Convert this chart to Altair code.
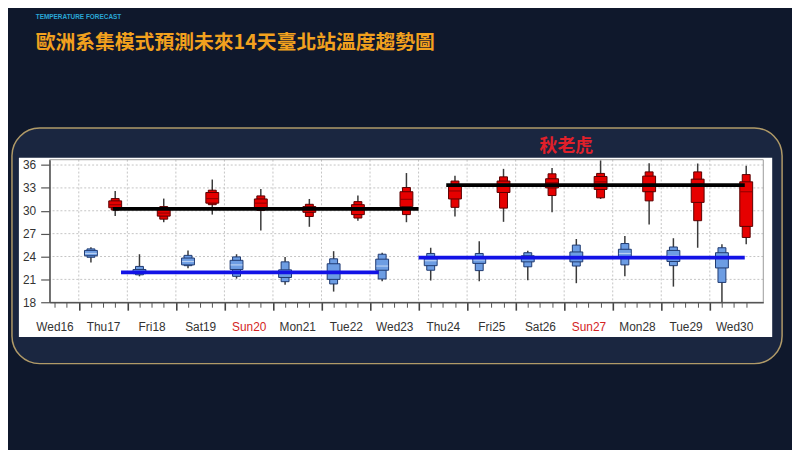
import altair as alt
import pandas as pd

# ---------------- data ----------------
day_labels = ["Wed16", "Thu17", "Fri18", "Sat19", "Sun20", "Mon21", "Tue22", "Wed23",
              "Thu24", "Fri25", "Sat26", "Sun27", "Mon28", "Tue29", "Wed30"]
days = list(range(16, 31))
box_days = list(range(17, 31))
y_ticks = [18, 21, 24, 27, 30, 33, 36]

# minimum temperature ensemble (blue), 06h
low_min = [23.2, 21.4, 22.45, 21.1, 20.3, 19.4, 20.75, 20.85, 20.75, 20.9, 20.5, 21.4, 20.05, 18.0]
low_p10 = [23.9, 21.6, 22.8, 21.4, 20.7, 20.4, 21.05, 22.2, 22.15, 22.65, 22.75, 22.9, 22.8, 20.6]
low_p25 = [24.1, 21.75, 22.9, 22.3, 21.25, 21.0, 22.2, 22.8, 23.1, 23.3, 23.3, 23.9, 23.35, 22.5]
low_med = [24.4, 22.0, 23.35, 22.9, 21.8, 21.95, 22.75, 23.45, 23.55, 23.75, 24.0, 24.4, 24.1, 23.85]
low_p75 = [24.8, 22.3, 23.8, 23.5, 22.25, 23.05, 23.65, 24.0, 24.0, 24.1, 24.6, 24.95, 24.8, 24.5]
low_p90 = [25.0, 22.7, 24.15, 23.95, 23.3, 23.7, 24.3, 24.4, 24.4, 24.5, 25.5, 25.7, 25.25, 25.15]
low_max = [25.2, 24.3, 24.8, 24.3, 23.95, 24.7, 24.5, 25.15, 26.0, 24.75, 26.3, 26.7, 26.4, 25.6]

# maximum temperature ensemble (red), 18h
high_min = [29.3, 28.5, 29.5, 27.4, 27.9, 28.7, 28.5, 29.25, 28.55, 29.8, 31.55, 28.2, 25.15, 25.6]
high_p10 = [30.1, 28.9, 30.8, 30.05, 29.25, 29.05, 29.5, 30.45, 30.35, 32.0, 31.7, 31.3, 28.7, 26.5]
high_p25 = [30.4, 29.3, 31.0, 30.35, 29.8, 29.5, 30.55, 31.55, 32.4, 33.0, 32.8, 32.5, 31.1, 27.95]
high_med = [30.8, 29.7, 31.6, 31.0, 30.2, 30.1, 31.5, 32.6, 33.3, 33.7, 33.8, 33.4, 33.5, 32.5]
high_p75 = [31.3, 30.25, 32.4, 31.55, 30.55, 30.8, 32.5, 33.35, 33.9, 34.2, 34.5, 34.55, 34.15, 33.8]
high_p90 = [31.6, 30.55, 32.7, 31.95, 30.85, 31.2, 33.05, 33.9, 34.45, 34.85, 34.9, 35.1, 35.1, 34.75]
high_max = [32.6, 31.6, 34.1, 32.85, 31.55, 32.0, 34.95, 34.6, 35.5, 35.6, 36.6, 36.25, 36.2, 35.9]

# forecast time of day (fraction of a day) for each kind of box
low_time = 0.25
high_time = 0.75

# mean lines
mean_kind = ["high", "high", "low", "low"]
mean_start = [17.7, 24.57, 17.87, 24.0]
mean_end = [24.0, 30.72, 23.18, 30.72]
mean_value = [30.25, 33.36, 21.92, 23.87]

title_small = "TEMPERATURE FORECAST"
title_main = "歐洲系集模式預測未來14天臺北站溫度趨勢圖"
note_text = "秋老虎"

# ---------------- tables ----------------
rows = []
for i, d in enumerate(box_days):
    rows.append(dict(pos=d + low_time, kind="low", mn=low_min[i], p10=low_p10[i], p25=low_p25[i],
                     med=low_med[i], p75=low_p75[i], p90=low_p90[i], mx=low_max[i]))
    rows.append(dict(pos=d + high_time, kind="high", mn=high_min[i], p10=high_p10[i], p25=high_p25[i],
                     med=high_med[i], p75=high_p75[i], p90=high_p90[i], mx=high_max[i]))
boxes = pd.DataFrame(rows)
means = pd.DataFrame(dict(kind=mean_kind, start=mean_start, end=mean_end, value=mean_value))
vgrid = pd.DataFrame(dict(x=box_days))
hgrid = pd.DataFrame(dict(y=y_ticks[1:]))
dummy = pd.DataFrame(dict(a=[0]))

# ---------------- layout constants ----------------
W, H = 721, 144
X_DOMAIN = [days[0] + 0.5, days[-1] + 1]
Y_DOMAIN = [18, 36.7]
xs = alt.Scale(domain=X_DOMAIN, nice=False, zero=False)
ys = alt.Scale(domain=Y_DOMAIN, nice=False, zero=False)

BG = "#0f182c"
PANEL = "#1a2640"
FONT = "Liberation Sans"
TXT = "#333333"

label_values = [d + 0.5 for d in days]
label_expr = "[" + ",".join("'%s'" % l for l in day_labels) + "][floor(datum.value) - %d]" % days[0]
sun_vals = [days[i] + 0.5 for i, l in enumerate(day_labels) if l.startswith("Sun")]
sun_test = " || ".join("datum.value == %s" % v for v in sun_vals)
minor_vals = [X_DOMAIN[0] + 0.25 * k for k in range(int((X_DOMAIN[1] - X_DOMAIN[0]) / 0.25) + 1)]
minor_vals = [v for v in minor_vals if abs(v - round(v)) > 1e-9]

kind_fill = alt.Scale(domain=["low", "high"], range=["#6d9de3", "#e60000"])
kind_stroke = alt.Scale(domain=["low", "high"], range=["#1f3a70", "#5a0000"])
kind_med = alt.Scale(domain=["low", "high"], range=["#d8e6f8", "#7a0000"])
kind_line = alt.Scale(domain=["low", "high"], range=["#1212e6", "#000000"])

base_dummy = alt.Chart(dummy)

outer = base_dummy.mark_rect(cornerRadius=28, fill=PANEL, stroke="#b09a68", strokeWidth=1.5).encode(
    x=alt.value(-38), x2=alt.value(740), y=alt.value(-32), y2=alt.value(206))
white = base_dummy.mark_rect(fill="white").encode(
    x=alt.value(-31), x2=alt.value(730), y=alt.value(-2), y2=alt.value(179))

hg = alt.Chart(hgrid).mark_rule(color="#c4c4c4", strokeDash=[2, 2], strokeWidth=1).encode(
    y=alt.Y("y:Q", scale=ys, axis=alt.Axis(
        orient="left", values=y_ticks, tickSize=9, tickColor="#555555", tickWidth=1.2, labelPadding=5,
        labelFont=FONT, labelFontSize=12, labelColor=TXT, domain=True, domainColor="#555555",
        domainWidth=1.5, grid=False, title=None, zindex=2)))
vg = alt.Chart(vgrid).mark_rule(color="#c4c4c4", strokeDash=[2, 2], strokeWidth=1).encode(
    x=alt.X("x:Q", scale=xs, axis=alt.Axis(orient="bottom", values=box_days, labels=False, domain=False,
                                          grid=False, ticks=True, tickSize=8, tickWidth=1.6,
                                          tickColor="#444444", title=None, zindex=2)))
frame = base_dummy.mark_rect(fill="transparent", stroke="#9a9a9a", strokeWidth=1).encode(
    x=alt.value(0), x2=alt.value(W), y=alt.value(0), y2=alt.value(H))

bb = alt.Chart(boxes)
whisk = bb.mark_rule(color="#3a3a3a", strokeWidth=1.5).encode(
    x=alt.X("pos:Q", scale=xs, axis=alt.Axis(
        orient="bottom", values=label_values, labelExpr=label_expr, tickSize=0, ticks=False,
        labelPadding=20, labelFont=FONT, labelFontSize=12,
        labelColor={"condition": {"test": sun_test, "value": "#d42424"}, "value": TXT},
        labelFlush=False, labelOverlap=False, labelBound=False,
        domain=True, domainColor="#555555", domainWidth=1.5, grid=False, title=None, zindex=2)),
    y=alt.Y("mn:Q", scale=ys, axis=None),
    y2="mx:Q")
outer_box = bb.mark_bar(size=8, strokeWidth=1).encode(
    x=alt.X("pos:Q", scale=xs, axis=alt.Axis(orient="bottom", values=minor_vals, labels=False,
                                            domain=False, grid=False, tickSize=5, tickWidth=1,
                                            tickColor="#555555", title=None, zindex=2)),
    y=alt.Y("p10:Q", scale=ys, axis=None), y2="p90:Q",
    fill=alt.Fill("kind:N", scale=kind_fill, legend=None),
    stroke=alt.Stroke("kind:N", scale=kind_stroke, legend=None))
inner_box = bb.mark_bar(size=13, strokeWidth=1).encode(
    x=alt.X("pos:Q", scale=xs, axis=None),
    y=alt.Y("p25:Q", scale=ys, axis=None), y2="p75:Q",
    fill=alt.Fill("kind:N", scale=kind_fill, legend=None),
    stroke=alt.Stroke("kind:N", scale=kind_stroke, legend=None))
median = bb.mark_tick(orient="horizontal", size=12, thickness=1.2).encode(
    x=alt.X("pos:Q", scale=xs, axis=None),
    y=alt.Y("med:Q", scale=ys, axis=None),
    color=alt.Color("kind:N", scale=kind_med, legend=None))
mean_lines = alt.Chart(means).mark_rule(strokeWidth=3.8).encode(
    x=alt.X("start:Q", scale=xs, axis=None), x2="end:Q",
    y=alt.Y("value:Q", scale=ys, axis=None),
    color=alt.Color("kind:N", scale=kind_line, legend=None))

t_small = base_dummy.mark_text(align="left", baseline="middle", font=FONT,
                               fontSize=6.5, fontWeight="bold", color="#2aa6d6").encode(
    x=alt.value(-14), y=alt.value(-144.5), text=alt.value(title_small))
t_main = base_dummy.mark_text(align="left", baseline="middle", font="Noto Sans CJK TC",
                              fontSize=20, fontWeight="bold", color="#f2a11e").encode(
    x=alt.value(-14), y=alt.value(-118), text=alt.value(title_main))
t_note = base_dummy.mark_text(align="center", baseline="middle", font="Noto Sans CJK TC",
                              fontSize=18, fontWeight="bold", color="#e0202a").encode(
    x=alt.value(522), y=alt.value(-13), text=alt.value(note_text))

chart = alt.layer(
    outer, white, hg, vg, frame, whisk, outer_box, inner_box, median, mean_lines,
    t_small, t_main, t_note
).resolve_axis(x="independent", y="independent").resolve_scale(color="independent").properties(
    width=W, height=H,
    background=BG,
    padding={"left": 42, "top": 151, "right": 29, "bottom": 147},
    autosize=alt.AutoSizeParams(type="none"),
).configure_view(strokeWidth=0)

chart.save("out.html", embed_options={"renderer": "svg", "actions": False})
